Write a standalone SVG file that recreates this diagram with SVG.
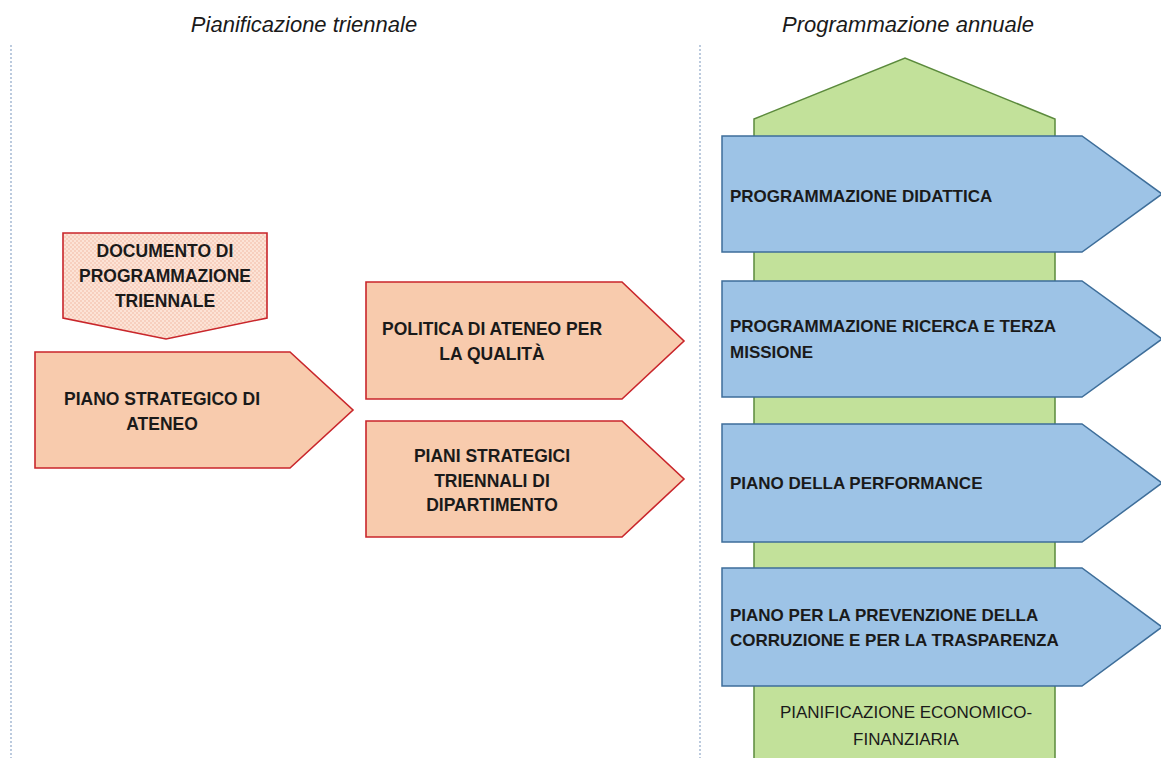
<svg xmlns="http://www.w3.org/2000/svg" width="1161" height="758" viewBox="0 0 1161 758">
<defs>
<pattern id="dots" width="4" height="4" patternUnits="userSpaceOnUse">
<rect width="4" height="4" fill="#FCE3D6"/>
<circle cx="1" cy="1" r="0.8" fill="#F2B7A0"/>
<circle cx="3" cy="3" r="0.8" fill="#F2B7A0"/>
</pattern>
<style>
.sep{stroke:#8FA8C8;stroke-width:1.2;stroke-dasharray:2,2;fill:none}
.title{font-family:"Liberation Sans",Arial,sans-serif;font-style:italic;font-size:22px;fill:#1a1a1a}
.or{fill:#F8CBAD;stroke:#C9262B;stroke-width:1.6}
.doc{fill:url(#dots);stroke:#C9262B;stroke-width:1.6}
.bl{fill:#9DC3E6;stroke:#3E6E9A;stroke-width:1.5}
.gr{fill:#C2E19A;stroke:#5B8A3C;stroke-width:1.5}
.t{font-family:"Liberation Sans",Arial,sans-serif;font-weight:bold;font-size:17px;fill:#1a1a1a}
.tc{text-anchor:middle;font-size:17.5px}
.reg{font-family:"Liberation Sans",Arial,sans-serif;font-size:17px;fill:#1a1a1a;text-anchor:middle}
</style>
</defs>
<rect width="1161" height="758" fill="#ffffff"/>
<line class="sep" x1="11" y1="45" x2="11" y2="758"/>
<line class="sep" x1="700" y1="45" x2="700" y2="758"/>
<text class="title" x="304" y="32" text-anchor="middle">Pianificazione triennale</text>
<text class="title" x="908" y="32" text-anchor="middle">Programmazione annuale</text>

<g id="pianificazione-economico-finanziaria">
<polygon class="gr" points="754,119 905,58 1055,119 1055,762 754,762"/>
<text class="reg" x="906" y="718">PIANIFICAZIONE ECONOMICO-</text>
<text class="reg" x="906" y="745">FINANZIARIA</text>
</g>

<g id="documento-programmazione">
<polygon class="doc" points="63,233 267,233 267,318 166,339 63,318"/>
<text class="t tc" x="165" y="257">DOCUMENTO DI</text>
<text class="t tc" x="165" y="282">PROGRAMMAZIONE</text>
<text class="t tc" x="165" y="307">TRIENNALE</text>
</g>

<g id="piano-strategico">
<polygon class="or" points="35,352 290,352 353,410 290,468 35,468"/>
<text class="t tc" x="162" y="405">PIANO STRATEGICO DI</text>
<text class="t tc" x="162" y="430">ATENEO</text>
</g>

<g id="politica-qualita">
<polygon class="or" points="366,282 622,282 684,341 622,399 366,399"/>
<text class="t tc" x="492" y="335">POLITICA DI ATENEO PER</text>
<text class="t tc" x="492" y="360">LA QUALITÀ</text>
</g>

<g id="piani-dipartimento">
<polygon class="or" points="366,421 622,421 684,479 622,537 366,537"/>
<text class="t tc" x="492" y="462">PIANI STRATEGICI</text>
<text class="t tc" x="492" y="487">TRIENNALI DI</text>
<text class="t tc" x="492" y="511">DIPARTIMENTO</text>
</g>

<g id="programmazione-didattica">
<polygon class="bl" points="722,136 1082,136 1162,194 1082,252 722,252"/>
<text class="t" x="730" y="202">PROGRAMMAZIONE DIDATTICA</text>
</g>

<g id="programmazione-ricerca">
<polygon class="bl" points="722,281 1082,281 1162,339 1082,397 722,397"/>
<text class="t" x="730" y="332">PROGRAMMAZIONE RICERCA E TERZA</text>
<text class="t" x="730" y="358">MISSIONE</text>
</g>

<g id="piano-performance">
<polygon class="bl" points="722,424 1082,424 1162,483 1082,542 722,542"/>
<text class="t" x="730" y="489">PIANO DELLA PERFORMANCE</text>
</g>

<g id="piano-prevenzione">
<polygon class="bl" points="722,568 1082,568 1162,627 1082,686 722,686"/>
<text class="t" x="730" y="621">PIANO PER LA PREVENZIONE DELLA</text>
<text class="t" x="730" y="646">CORRUZIONE E PER LA TRASPARENZA</text>
</g>

<g id="connectors"></g>
</svg>
